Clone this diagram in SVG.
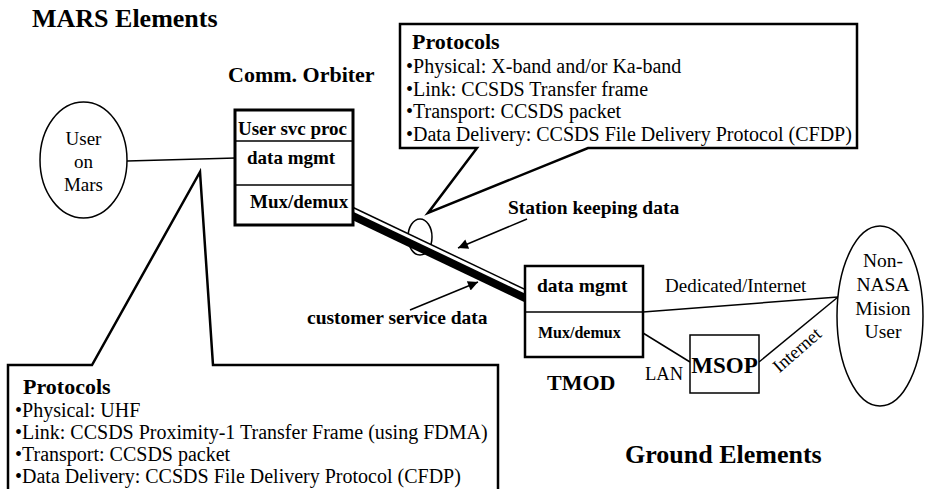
<svg xmlns="http://www.w3.org/2000/svg" width="925" height="489" viewBox="0 0 925 489">
<defs>
<marker id="ah" viewBox="0 0 10 10" refX="10" refY="5" markerWidth="14" markerHeight="10" markerUnits="userSpaceOnUse" orient="auto"><path d="M0,0 L10,5 L0,10 z" fill="#000"/></marker>
<style>
text{font-family:"Liberation Serif","Times New Roman",serif;fill:#000}
.b{font-weight:bold}
.ln{stroke:#000;stroke-width:1.5;fill:none}
.box{fill:#fff;stroke:#000}
.c{text-anchor:middle}
.p{font-size:20px}
</style>
</defs>
<rect width="925" height="489" fill="#fff"/>

<g id="titles">
<text class="b" x="32" y="27" font-size="26">MARS Elements</text>
<text class="b" x="228" y="82" font-size="22">Comm. Orbiter</text>
<text class="b" x="547" y="390" font-size="22">TMOD</text>
<text class="b" x="625" y="463" font-size="26">Ground Elements</text>
</g>

<g id="connectors">
<line class="ln" x1="127" y1="161" x2="236" y2="158"/>
<ellipse class="ln" cx="420" cy="237" rx="12" ry="18"/>
<line x1="345" y1="209.7" x2="532" y2="298.8" stroke="#000" stroke-width="12.5"/>
<line x1="346.4" y1="206.8" x2="533.4" y2="295.9" stroke="#fff" stroke-width="3"/>
<line class="ln" x1="527" y1="219" x2="458" y2="248" marker-end="url(#ah)"/>
<line class="ln" x1="410" y1="310" x2="478" y2="282" marker-end="url(#ah)"/>
<line class="ln" x1="643" y1="312" x2="838" y2="297"/>
<line class="ln" x1="643" y1="333" x2="690" y2="362"/>
<line class="ln" x1="759" y1="362" x2="838" y2="297"/>
<text class="b" x="508" y="214" font-size="19.5">Station keeping data</text>
<text class="b" x="307" y="324" font-size="19.5">customer service data</text>
<text x="665" y="292" font-size="19">Dedicated/Internet</text>
<text x="645" y="380" font-size="18.5">LAN</text>
<text transform="translate(797,350) rotate(-41)" class="c" x="0" y="6" font-size="18.5">Internet</text>
</g>

<g id="user-on-mars">
<ellipse class="box" stroke-width="1.5" cx="83.5" cy="160" rx="43.5" ry="58"/>
<text class="c" x="83.5" y="145" font-size="19">User</text>
<text class="c" x="83.5" y="168" font-size="19">on</text>
<text class="c" x="83.5" y="191" font-size="19">Mars</text>
</g>

<g id="comm-orbiter">
<rect class="box" stroke-width="3" x="235" y="110" width="118" height="115"/>
<line class="ln" x1="235" y1="141" x2="353" y2="141"/>
<line class="ln" x1="235" y1="185" x2="353" y2="185"/>
<text class="b" x="238" y="135" font-size="19">User svc proc</text>
<text class="b" x="247" y="164" font-size="19">data mgmt</text>
<text class="b" x="250" y="208" font-size="19">Mux/demux</text>
</g>

<g id="tmod">
<rect class="box" stroke-width="2.5" x="525" y="266" width="118" height="91"/>
<line class="ln" x1="525" y1="312" x2="643" y2="312"/>
<text class="b" x="537" y="292" font-size="19.5">data mgmt</text>
<text class="b" x="538" y="338" font-size="16">Mux/demux</text>
</g>

<g id="msop">
<rect class="box" stroke-width="1.5" x="690" y="335" width="69" height="58"/>
<text class="b c" x="724.5" y="373" font-size="23">MSOP</text>
</g>

<g id="non-nasa-user">
<ellipse class="box" stroke-width="1.5" cx="880" cy="316" rx="43" ry="90"/>
<text class="c" x="883" y="267" font-size="19.5">Non-</text>
<text class="c" x="883" y="291" font-size="19.5">NASA</text>
<text class="c" x="883" y="315" font-size="19.5">Mision</text>
<text class="c" x="883" y="338" font-size="19.5">User</text>
</g>

<g id="protocols-link">
<path class="box" stroke-width="2.5" stroke-linejoin="miter" d="M400,24 L857,24 L857,148 L588,148 L428,213 L477,148 L400,148 Z"/>
<text class="b" x="412" y="49" font-size="22">Protocols</text>
<text class="p" x="406" y="73">•Physical: X-band and/or Ka-band</text>
<text class="p" x="406" y="96">•Link: CCSDS Transfer frame</text>
<text class="p" x="406" y="118">•Transport: CCSDS packet</text>
<text class="p" x="406" y="141">•Data Delivery: CCSDS File Delivery Protocol (CFDP)</text>
</g>

<g id="protocols-proximity">
<path class="box" stroke-width="2.5" stroke-linejoin="miter" d="M92,365 L8,365 L8,492 L498,492 L498,365 L213,365 L200,172 Z"/>
<text class="b" x="23" y="394" font-size="22">Protocols</text>
<text class="p" x="15" y="417">•Physical: UHF</text>
<text class="p" x="15" y="439">•Link: CCSDS Proximity-1 Transfer Frame (using FDMA)</text>
<text class="p" x="15" y="461">•Transport: CCSDS packet</text>
<text class="p" x="15" y="483">•Data Delivery: CCSDS File Delivery Protocol (CFDP)</text>
</g>
</svg>
